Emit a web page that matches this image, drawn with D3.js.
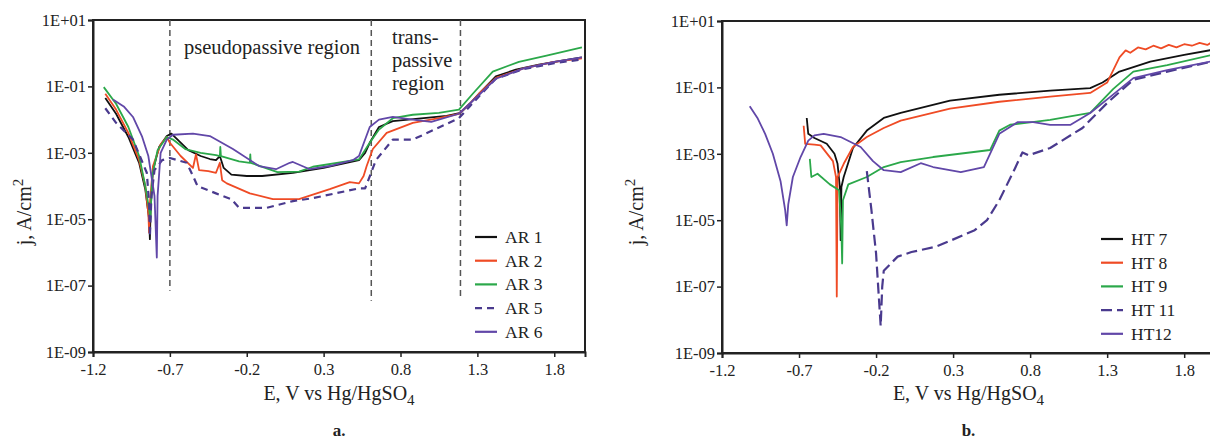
<!DOCTYPE html>
<html>
<head>
<meta charset="utf-8">
<script src="https://cdn.jsdelivr.net/npm/d3@7"></script>
<style>
  body { margin: 0; background: #fff; }
  text { font-family: "Liberation Serif", "Times New Roman", Times, serif; fill: #222; }
</style>
</head>
<body>
<script>
// E (V vs Hg/HgSO4), j (A/cm2)
var ar1 = [[-1.12,4.5e-2],[-1.05,1.5e-2],[-0.97,3e-3],[-0.9,5e-4],[-0.86,8e-5],[-0.835,1e-5],[-0.83,2.5e-6],[-0.825,2e-5],[-0.81,3e-4],[-0.77,1.5e-3],[-0.72,3.2e-3],[-0.69,3.8e-3],[-0.65,2.5e-3],[-0.58,1.2e-3],[-0.5,8e-4],[-0.44,6.5e-4],[-0.4,6e-4],[-0.375,8e-4],[-0.35,3.5e-4],[-0.3,2.2e-4],[-0.2,2e-4],[-0.1,2e-4],[0.1,2.5e-4],[0.3,3.5e-4],[0.53,6e-4],[0.57,1e-3],[0.6,2e-3],[0.66,6e-3],[0.75,9e-3],[0.95,1.1e-2],[1.1,1.3e-2],[1.19,1.6e-2],[1.25,3e-2],[1.31,6e-2],[1.42,0.2],[1.55,0.32],[1.7,0.45],[1.85,0.6],[1.98,0.75]];
var ar2 = [[-1.12,6e-2],[-1.05,2e-2],[-0.97,4e-3],[-0.9,6e-4],[-0.86,1e-4],[-0.84,1.5e-5],[-0.835,4e-6],[-0.83,3e-5],[-0.81,4e-4],[-0.76,1.8e-3],[-0.72,3e-3],[-0.7,2e-3],[-0.63,8e-4],[-0.55,3.5e-4],[-0.53,9e-4],[-0.51,3e-4],[-0.45,2.8e-4],[-0.4,2.5e-4],[-0.375,5e-4],[-0.36,1.5e-4],[-0.33,1.2e-4],[-0.18,6e-5],[-0.03,4e-5],[0.14,4e-5],[0.34,8e-5],[0.47,1.3e-4],[0.53,1.2e-4],[0.56,2e-4],[0.58,4e-4],[0.62,1.3e-3],[0.71,4e-3],[0.88,8e-3],[1.05,1.1e-2],[1.18,1.5e-2],[1.25,3e-2],[1.31,6e-2],[1.42,0.18],[1.6,0.35],[1.8,0.55],[1.98,0.7]];
var ar3 = [[-1.13,9.5e-2],[-1.05,3e-2],[-0.97,6e-3],[-0.9,8e-4],[-0.86,1e-4],[-0.835,2e-5],[-0.827,1e-5],[-0.815,2e-4],[-0.78,1.2e-3],[-0.72,3e-3],[-0.68,2.5e-3],[-0.6,1.3e-3],[-0.5,1e-3],[-0.4,8.5e-4],[-0.375,8e-4],[-0.372,1.5e-3],[-0.368,8e-4],[-0.25,5.5e-4],[-0.18,5e-4],[-0.177,9e-4],[-0.174,5e-4],[0.0,2.6e-4],[0.14,2.7e-4],[0.23,3.8e-4],[0.53,6.3e-4],[0.6,2e-3],[0.66,5e-3],[0.75,1.1e-2],[0.88,1.4e-2],[1.05,1.6e-2],[1.18,2e-2],[1.27,6e-2],[1.4,0.28],[1.57,0.55],[1.75,0.85],[1.98,1.5]];
var ar5 = [[-1.12,2.2e-2],[-1.05,8e-3],[-0.94,2.5e-3],[-0.85,2.5e-4],[-0.835,3e-5],[-0.83,3e-6],[-0.82,5e-5],[-0.8,3e-4],[-0.75,6e-4],[-0.7,7e-4],[-0.65,6e-4],[-0.59,5e-4],[-0.55,2e-4],[-0.52,1e-4],[-0.4,6e-5],[-0.3,4e-5],[-0.25,2.2e-5],[-0.07,2.2e-5],[0.1,3.5e-5],[0.23,4.3e-5],[0.53,8.5e-5],[0.57,8.5e-5],[0.64,6e-4],[0.75,2.5e-3],[0.88,2.5e-3],[1.18,1.1e-2],[1.25,2.5e-2],[1.31,5e-2],[1.42,0.17],[1.6,0.33],[1.8,0.5],[1.98,0.65]];
var ar6 = [[-1.07,4e-2],[-1.0,2.5e-2],[-0.94,1.2e-2],[-0.88,3e-3],[-0.84,8e-4],[-0.8,5e-5],[-0.785,7e-7],[-0.78,5e-5],[-0.76,1e-3],[-0.72,2.5e-3],[-0.68,3.5e-3],[-0.55,3.8e-3],[-0.44,3.2e-3],[-0.29,1.3e-3],[-0.12,4e-4],[-0.01,3.2e-4],[0.08,5e-4],[0.1,5.3e-4],[0.21,3.2e-4],[0.34,4e-4],[0.49,6e-4],[0.53,8e-4],[0.6,6e-3],[0.66,1e-2],[0.75,1.2e-2],[0.88,1e-2],[1.0,8.5e-3],[1.18,1.5e-2],[1.25,3e-2],[1.31,5.5e-2],[1.42,0.17],[1.6,0.35],[1.8,0.55],[1.98,0.75]];

var ht7 = [[-0.65,1.2e-2],[-0.64,4e-3],[-0.6,3e-3],[-0.52,2e-3],[-0.47,1e-3],[-0.45,5e-4],[-0.435,1e-4],[-0.43,2.5e-6],[-0.425,1e-4],[-0.41,2e-4],[-0.35,1.5e-3],[-0.26,5e-3],[-0.15,1.2e-2],[-0.04,1.7e-2],[0.28,4e-2],[0.6,6e-2],[0.93,8e-2],[1.19,9.5e-2],[1.27,0.14],[1.38,0.3],[1.58,0.6],[1.8,0.95],[1.98,1.35]];
var ht8 = [[-0.67,7e-3],[-0.66,2e-3],[-0.6,1.9e-3],[-0.56,1.8e-3],[-0.48,6e-4],[-0.46,2e-4],[-0.455,5e-8],[-0.45,2e-4],[-0.41,5e-4],[-0.35,1.6e-3],[-0.26,3.2e-3],[-0.15,6e-3],[-0.04,1e-2],[0.28,2.3e-2],[0.6,3.7e-2],[0.93,5.3e-2],[1.19,6.8e-2],[1.3,0.14],[1.38,0.8],[1.42,1.3],[1.45,1.1],[1.5,1.6],[1.55,1.4],[1.6,1.8],[1.65,1.5],[1.7,1.9],[1.75,1.6],[1.8,2.0],[1.85,1.8],[1.9,2.2],[1.95,1.9],[1.98,2.3]];
var ht9 = [[-0.63,7e-4],[-0.62,2e-4],[-0.58,2.5e-4],[-0.5,1.2e-4],[-0.44,8e-5],[-0.425,5e-6],[-0.42,5e-7],[-0.415,4e-5],[-0.38,1.2e-4],[-0.26,2e-4],[-0.15,4e-4],[-0.04,5.6e-4],[0.17,8e-4],[0.54,1.3e-3],[0.6,5e-3],[0.67,7.5e-3],[0.93,1.05e-2],[1.19,1.7e-2],[1.34,9e-2],[1.47,0.3],[1.69,0.47],[1.98,0.95]];
var ht11 = [[-0.26,3e-4],[-0.23,2e-5],[-0.2,1e-6],[-0.17,6.5e-9],[-0.16,1e-7],[-0.15,3e-7],[-0.06,8e-7],[0.03,1.1e-6],[0.19,1.6e-6],[0.29,2.5e-6],[0.44,5e-6],[0.52,1e-5],[0.6,4e-5],[0.7,3.5e-4],[0.75,1.1e-3],[0.79,9e-4],[0.93,1.5e-3],[1.14,6e-3],[1.3,3.4e-2],[1.47,0.17],[1.69,0.3],[1.98,0.6]];
var ht12 = [[-1.02,2.7e-2],[-0.97,1.2e-2],[-0.92,4e-3],[-0.87,1e-3],[-0.82,1.5e-4],[-0.79,2e-5],[-0.78,7e-6],[-0.77,3e-5],[-0.74,2e-4],[-0.69,8e-4],[-0.64,2.5e-3],[-0.6,3.6e-3],[-0.54,4e-3],[-0.43,3.2e-3],[-0.3,1.6e-3],[-0.22,6e-4],[-0.15,3.2e-4],[-0.04,2.8e-4],[0.09,5.2e-4],[0.17,4e-4],[0.35,2.8e-4],[0.5,4e-4],[0.6,4e-3],[0.72,9e-3],[0.82,9e-3],[0.93,7.4e-3],[1.06,7.4e-3],[1.19,1.7e-2],[1.32,5.2e-2],[1.47,0.19],[1.69,0.33],[1.97,0.6]];

var xTicks = [-1.2, -0.7, -0.2, 0.3, 0.8, 1.3, 1.8];
var yTicks = [1e1, 1e-1, 1e-3, 1e-5, 1e-7, 1e-9];
var yTickLabels = ["1E+01", "1E-01", "1E-03", "1E-05", "1E-07", "1E-09"];

var regionLines = [[-0.7, 7e-8], [0.61, 3.5e-8], [1.19, 4.5e-8]];

var colors = {black: "#111", red: "#ef4b25", green: "#2ba84a", dash: "#4a3a8e", purple: "#6147a8"};

var seriesA = [
  {name: "AR 1", data: ar1, color: colors.black, dash: null},
  {name: "AR 2", data: ar2, color: colors.red, dash: null},
  {name: "AR 3", data: ar3, color: colors.green, dash: null},
  {name: "AR 5", data: ar5, color: colors.dash, dash: "7,5"},
  {name: "AR 6", data: ar6, color: colors.purple, dash: null}
];
var seriesB = [
  {name: "HT 7", data: ht7, color: colors.black, dash: null},
  {name: "HT 8", data: ht8, color: colors.red, dash: null},
  {name: "HT 9", data: ht9, color: colors.green, dash: null},
  {name: "HT 11", data: ht11, color: colors.dash, dash: "11,5"},
  {name: "HT12", data: ht12, color: colors.purple, dash: null}
];

var svg = d3.select("body").append("svg")
            .attr("width", 1210)
            .attr("height", 447);

var drawPanel = function(p)
{
  var x = d3.scaleLinear().domain([-1.2, 2.0]).range([p.left, p.right]);
  var y = d3.scaleLog().domain([1e-9, 10]).range([p.bottom, p.top]);

  var g = svg.append("g");

  var line = d3.line()
               .x(function(d) {return x(d[0]);})
               .y(function(d) {return y(d[1]);});

  // frame
  g.append("rect")
   .attr("x", p.left).attr("y", p.top)
   .attr("width", p.right - p.left).attr("height", p.bottom - p.top)
   .attr("fill", "none").attr("stroke", "#222").attr("stroke-width", 2);

  var yAxis = d3.axisLeft(y)
                .tickValues(yTicks)
                .tickFormat(function(d, i) {return yTickLabels[i];})
                .tickSize(5).tickPadding(2);
  var xAxis = d3.axisBottom(x)
                .tickValues(xTicks)
                .tickFormat(function(d) {return d.toFixed(1);})
                .tickSize(5).tickPadding(6);

  var ya = g.append("g").attr("transform", "translate(" + p.left + ",0)").call(yAxis);
  var xa = g.append("g").attr("transform", "translate(0," + p.bottom + ")").call(xAxis);
  [ya, xa].forEach(function(a) {
    a.attr("font-family", null);
    a.select(".domain").attr("stroke", "#222").attr("stroke-width", 2);
    a.selectAll(".tick line").attr("stroke", "#222").attr("stroke-width", 1.5);
    a.selectAll("text").attr("font-size", "16.5px").attr("fill", "#222");
  });

  if (p.regions)
  {
    g.selectAll(".region")
     .data(regionLines)
     .enter()
     .append("line")
     .attr("x1", function(d) {return x(d[0]);})
     .attr("x2", function(d) {return x(d[0]);})
     .attr("y1", p.top)
     .attr("y2", function(d) {return y(d[1]);})
     .attr("stroke", "#555")
     .attr("stroke-width", 1.5)
     .attr("stroke-dasharray", "6,4");

    g.append("text").attr("x", 184).attr("y", 54).attr("font-size", "20.5px")
     .text("pseudopassive region");
    ["trans-", "passive", "region"].forEach(function(t, i) {
      g.append("text").attr("x", 392).attr("y", 44 + i * 23).attr("font-size", "20.5px").text(t);
    });
  }

  var clip = "clip" + p.label;
  svg.append("clipPath").attr("id", clip)
     .append("rect").attr("x", p.left).attr("y", p.top)
     .attr("width", p.right - p.left).attr("height", p.bottom - p.top);

  g.append("g").attr("clip-path", "url(#" + clip + ")")
   .selectAll("path.series")
   .data(p.series)
   .enter()
   .append("path")
   .attr("class", "series")
   .attr("d", function(d) {return line(d.data);})
   .attr("fill", "none")
   .attr("stroke", function(d) {return d.color;})
   .attr("stroke-width", function(d) {return d.dash ? 2.2 : 1.8;})
   .attr("stroke-dasharray", function(d) {return d.dash;})
   .attr("stroke-linejoin", "round");

  // legend
  var leg = g.append("g")
             .selectAll("g")
             .data(p.series)
             .enter()
             .append("g")
             .attr("transform", function(d, i) {return "translate(" + p.legX + "," + (p.legY + i * 23.7) + ")";});
  leg.append("line")
     .attr("x1", 0).attr("x2", 22)
     .attr("stroke", function(d) {return d.color;})
     .attr("stroke-width", 2.2)
     .attr("stroke-dasharray", function(d) {return d.dash;});
  leg.append("text")
     .attr("x", 30).attr("y", 6)
     .attr("font-size", "17.5px")
     .text(function(d) {return d.name;});

  // axis titles
  var cx = (p.left + p.right) / 2;
  var xt = g.append("text").attr("x", cx).attr("y", 400)
            .attr("text-anchor", "middle").attr("font-size", "20px");
  xt.append("tspan").text("E, V vs Hg/HgSO");
  xt.append("tspan").attr("dy", 5).attr("font-size", "15px").text("4");

  var yt = g.append("text")
            .attr("transform", "translate(" + p.yTitleX + ",212) rotate(-90)")
            .attr("text-anchor", "middle").attr("font-size", "20px");
  yt.append("tspan").text("j, A/cm");
  yt.append("tspan").attr("dy", -8).attr("font-size", "15px").text("2");

  g.append("text").attr("x", cx).attr("y", 436)
   .attr("text-anchor", "middle").attr("font-size", "17px").attr("font-weight", "bold")
   .text(p.label + ".");
}

drawPanel({left: 93, right: 585, top: 20, bottom: 352, series: seriesA, regions: true,
           legX: 475, legY: 237, yTitleX: 31, label: "a"});
drawPanel({left: 722, right: 1215, top: 21, bottom: 353, series: seriesB, regions: false,
           legX: 1101, legY: 239, yTitleX: 643, label: "b"});
</script>
</body>
</html>
